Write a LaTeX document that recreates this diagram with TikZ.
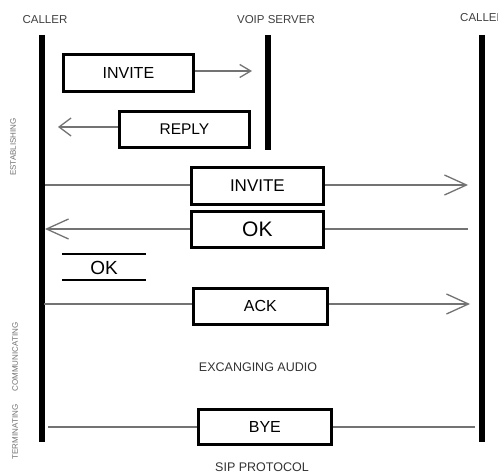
\documentclass[tikz,border=0pt]{standalone}
\usepackage{fontspec}
\setmainfont{Liberation Sans}
\usetikzlibrary{arrows.meta}
\begin{document}
\begin{tikzpicture}[x=1pt,y=-1pt,
  life/.style={line width=5.5pt,black},
  msgbox/.style={draw=black,line width=2.8pt,fill=white,inner sep=0pt,anchor=north west},
  conn/.style={draw=black!55,line width=1.5pt},
  bigtip/.style={-{Straight Barb[length=22pt,width=20pt,line width=1.3pt]}},
  smalltip/.style={-{Straight Barb[length=11pt,width=13pt,line width=1.3pt]}},
  midtip/.style={-{Straight Barb[length=12pt,width=18pt,line width=1.3pt]}},
  hdr/.style={font=\fontsize{11.5}{13}\selectfont,text=black!75,inner sep=0pt},
  side/.style={font=\fontsize{8}{9}\selectfont,text=black!55,inner sep=0pt,rotate=90},
  lbl/.style={font=\fontsize{12.5}{14}\selectfont,text=black!80,inner sep=0pt}]
\useasboundingbox (0,0) rectangle (498,473);
\clip (0,0) rectangle (498,473);
\fill[white] (0,0) rectangle (498,473);

% headers
\node[hdr] (hcaller) at (45,20) {CALLER};
\node[hdr] (hserver) at (276,20) {VOIP SERVER};
\node[hdr,anchor=west] (hcallee) at (460,18) {CALLEE};

% lifelines
\coordinate (ct) at (42,35);  \coordinate (cb) at (42,442);
\coordinate (st) at (268,35); \coordinate (sb) at (268,150);
\coordinate (et) at (482,35); \coordinate (eb) at (482,442);
\draw[life] (ct) -- (cb);
\draw[life] (st) -- (sb);
\draw[life] (et) -- (eb);

% side labels
\node[side] (sest) at (13,147) {ESTABLISHING};
\node[side] (scom) at (15,357) {COMMUNICATING};
\node[side] (ster) at (15,432) {TERMINATING};

% INVITE to server
\node[msgbox,minimum width=130pt,minimum height=37pt,font=\fontsize{16}{18}\selectfont] (inv1) at (62,53) {INVITE};
\coordinate (inv1e) at (252,71);
\draw[conn,smalltip] (inv1.east |- inv1e) -- (inv1e);

% REPLY
\node[msgbox,minimum width=130pt,minimum height=36pt,font=\fontsize{15.5}{18}\selectfont] (rep) at (118,110) {REPLY};
\coordinate (repe) at (58,127);
\draw[conn,midtip] (rep.west |- repe) -- (repe);

% INVITE to callee
\node[msgbox,minimum width=132pt,minimum height=37pt,font=\fontsize{17}{19}\selectfont] (inv2) at (190,166) {INVITE};
\coordinate (inv2s) at (45,185);
\coordinate (inv2e) at (468,185);
\draw[conn] (inv2s) -- (inv2.west |- inv2s);
\draw[conn,bigtip] (inv2.east |- inv2e) -- (inv2e);

% OK from callee
\node[msgbox,minimum width=132pt,minimum height=36pt,font=\fontsize{21}{23}\selectfont] (ok1) at (190,210) {OK};
\coordinate (ok1s) at (468,229);
\coordinate (ok1e) at (45,229);
\draw[conn] (ok1s) -- (ok1.east |- ok1s);
\draw[conn,bigtip] (ok1.west |- ok1e) -- (ok1e);

% standalone OK
\node[font=\fontsize{19}{21}\selectfont,inner sep=0pt] (ok2) at (104,267.5) {OK};
\coordinate (ok2a) at (62,254); \coordinate (ok2b) at (146,254);
\coordinate (ok2c) at (62,280); \coordinate (ok2d) at (146,280);
\draw[line width=2.8pt] (ok2a) -- (ok2b);
\draw[line width=2.8pt] (ok2c) -- (ok2d);

% ACK
\node[msgbox,minimum width=134pt,minimum height=36pt,font=\fontsize{16}{18}\selectfont] (ack) at (192,287) {ACK};
\coordinate (acks) at (44,304);
\coordinate (acke) at (470,304);
\draw[conn] (acks) -- (ack.west |- acks);
\draw[conn,bigtip] (ack.east |- acke) -- (acke);

% exchanging audio
\node[lbl] (aud) at (258,367) {EXCANGING AUDIO};

% BYE
\node[msgbox,minimum width=133pt,minimum height=35pt,font=\fontsize{16}{18}\selectfont] (bye) at (197,408) {BYE};
\coordinate (byes) at (48,427);
\coordinate (byee) at (475,427);
\draw[conn] (byes) -- (bye.west |- byes);
\draw[conn] (bye.east |- byee) -- (byee);

% caption
\node[lbl] (cap) at (262,467) {SIP PROTOCOL};
\end{tikzpicture}
\end{document}
